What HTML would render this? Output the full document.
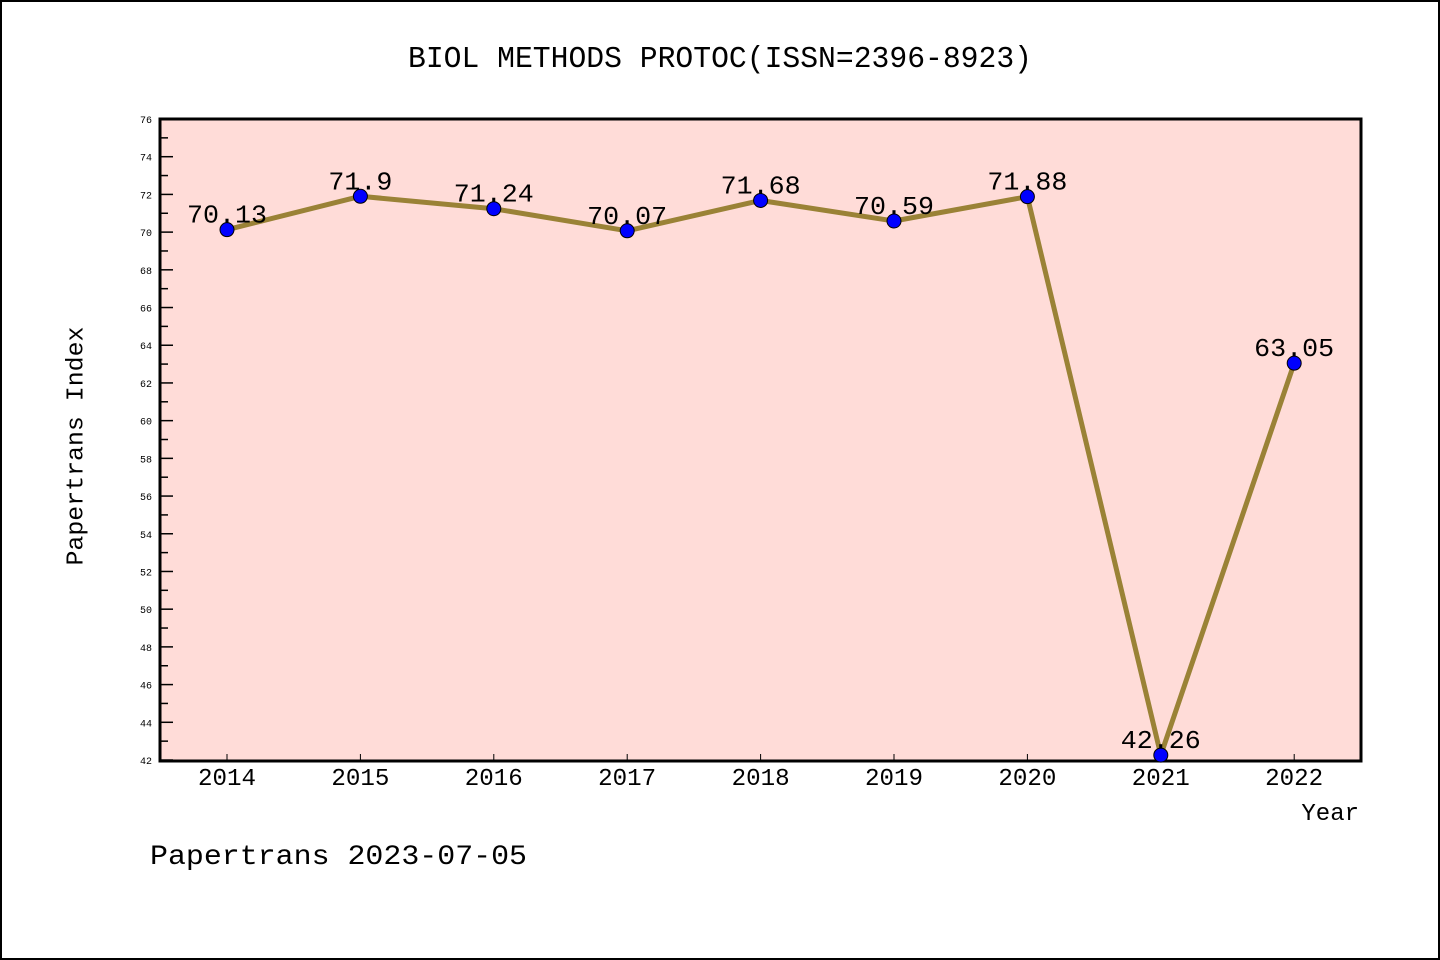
<!DOCTYPE html>
<html><head><meta charset="utf-8"><style>body{margin:0}svg{display:block}text{font-family:"Liberation Mono","WenQuanYi Zen Hei",monospace}</style></head>
<body>
<svg id="chart" width="1440" height="960">
<rect x="1" y="1" width="1438" height="958" fill="#fff" stroke="#000" stroke-width="2"/>
<text x="720" y="67" text-anchor="middle" font-size="31" textLength="624" lengthAdjust="spacingAndGlyphs">BIOL METHODS PROTOC(ISSN=2396-8923)</text>
<rect x="160" y="119" width="1201" height="642" fill="#ffdcd8"/>
<g id="yticks"></g><g id="xticks"></g>
<rect x="160" y="119" width="1201" height="642" fill="none" stroke="#000" stroke-width="3"/>
<g id="series"></g>
<text x="76" y="446" transform="rotate(-90 76 446)" text-anchor="middle" dominant-baseline="middle" font-size="24" textLength="239" lengthAdjust="spacingAndGlyphs">Papertrans Index</text>
<text x="1359" y="820" text-anchor="end" font-size="24">Year</text>
<text x="150" y="864" font-size="28" textLength="377" lengthAdjust="spacingAndGlyphs">Papertrans 2023-07-05</text>
</svg>
<script>
const years=["2014","2015","2016","2017","2018","2019","2020","2021","2022"];
const values=[70.13,71.9,71.24,70.07,71.68,70.59,71.88,42.26,63.05];
const labels=["70.13","71.9","71.24","70.07","71.68","70.59","71.88","42.26","63.05"];
const yMin=42,yMax=76;
const NS="http://www.w3.org/2000/svg";
function y(v){return 760-(v-yMin)/(yMax-yMin)*641;}
function x(i){return 227+i*133.4;}
function mk(t,a,p){const e=document.createElementNS(NS,t);for(const k in a)e.setAttribute(k,a[k]);p.appendChild(e);return e;}
const yt=document.getElementById('yticks');
for(let v=yMin;v<=yMax;v++){
 const major=(v%2===0);
 const l=mk('line',{x1:160,x2:160+(major?13:8),y1:y(v),y2:y(v),stroke:'#000','stroke-width':1.5},yt);
 
 
 if(major){const t=mk('text',{x:152,y:y(v)+4,'text-anchor':'end','font-size':10},yt);t.textContent=v;
 
 }
}
const xt=document.getElementById('xticks');
years.forEach((yr,i)=>{
 const l=mk('line',{x1:x(i),x2:x(i),y1:760,y2:754,stroke:'#000','stroke-width':1},xt);
 
 
 const t=mk('text',{x:x(i),y:785,'text-anchor':'middle','font-size':24,textLength:58,lengthAdjust:'spacingAndGlyphs'},xt);t.textContent=yr;
 
 
});
const s=document.getElementById('series');
const line=mk('polyline',{points:values.map((v,i)=>x(i)+','+y(v)).join(' '),fill:'none',stroke:'#9a8236','stroke-width':5,'stroke-linejoin':'round'},s);


values.forEach((v,i)=>{
 const c=mk('circle',{cx:x(i),cy:y(v),r:7,fill:'#0000ff',stroke:'#000','stroke-width':1},s);
 
 
 const t=mk('text',{x:x(i),y:y(v)-7,'text-anchor':'middle','font-size':26,textLength:labels[i].length*16,lengthAdjust:'spacingAndGlyphs'},s);t.textContent=labels[i];
 
 
});
</script>
</body></html>
